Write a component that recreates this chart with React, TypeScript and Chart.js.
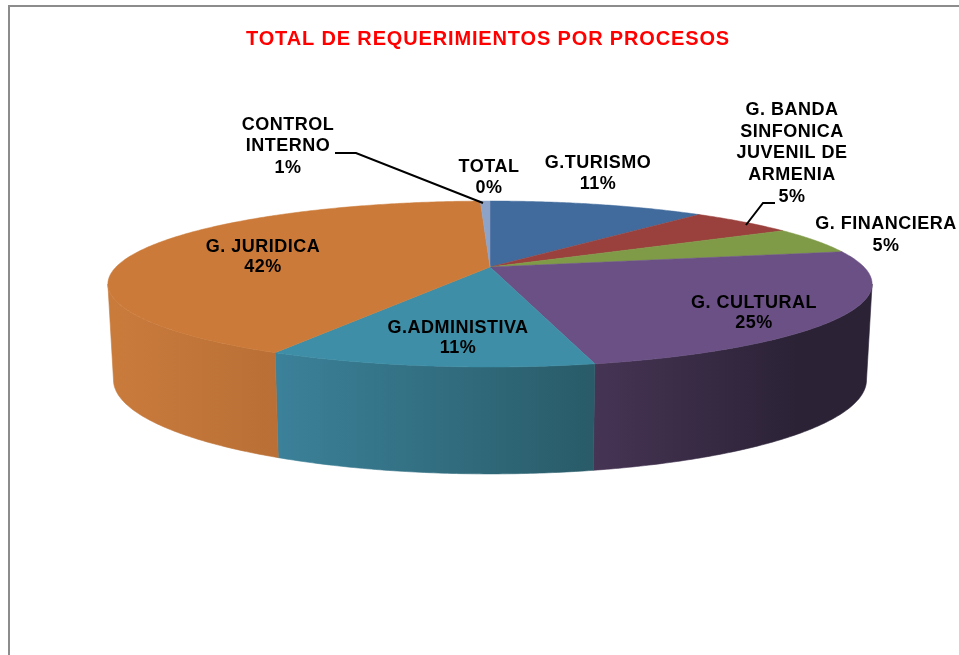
import React, { useEffect, useRef } from "react";
import { Chart, registerables } from "chart.js";

Chart.register(...registerables);

const categories = [
  "G.TURISMO",
  "G. BANDA SINFONICA JUVENIL DE ARMENIA",
  "G. FINANCIERA",
  "G. CULTURAL",
  "G.ADMINISTIVA",
  "G. JURIDICA",
  "CONTROL INTERNO",
  "TOTAL",
];
const shares = [11.2, 5.4, 5.2, 24.6, 11.4, 41.7, 0.5, 0];
const topColors = ["#416b9c", "#9a403d", "#7f9b47", "#6a5084", "#3d8ea6", "#cb7a39", "#8da3c8", "#8da3c8"];
const wallLeft = ["#34567d", "#7b3331", "#667c39", "#463454", "#3b8199", "#c97b3c", "#71829f", "#71829f"];
const wallRight = ["#34567d", "#7b3331", "#667c39", "#2b2236", "#295b68", "#b96f35", "#71829f", "#71829f"];
const chartTitle = "TOTAL DE REQUERIMIENTOS POR PROCESOS";

// Page coordinates of the text blocks (layout only)
const labelLayout = [
  { lines: ["G.TURISMO"], x: 598, y: 163, lh: 21 },
  { lines: ["G. BANDA", "SINFONICA", "JUVENIL DE", "ARMENIA"], x: 792, y: 110, lh: 21.7 },
  { lines: ["G. FINANCIERA"], x: 886, y: 224, lh: 22 },
  { lines: ["G. CULTURAL"], x: 754, y: 303, lh: 20 },
  { lines: ["G.ADMINISTIVA"], x: 458, y: 328, lh: 20 },
  { lines: ["G. JURIDICA"], x: 263, y: 247, lh: 20 },
  { lines: ["CONTROL", "INTERNO"], x: 288, y: 125, lh: 21.5 },
  { lines: ["TOTAL"], x: 489, y: 167, lh: 21 },
];
const leaders = [
  [[335, 153], [356, 153], [483, 203]],
  [[775, 203], [763, 203], [746, 225]],
];

const OX = 8, OY = 5; // canvas origin on the page
const K = 0.205;
const LIMB = Math.asin(K); // angle of the disk's left/right silhouette, measured from the horizontal
const topDisk = { cx: 490, cy: 267, rx: 374, ry: 79.5 };
const baseDisk = { cx: 490, cy: 360.7, rx: 368.5, ry: 90 };

type Disk = typeof topDisk;
const project = (d: Disk, a: number): [number, number] => {
  const X = Math.cos(a), Y = Math.sin(a), w = 1 - K * Y;
  return [d.cx + (d.rx * X) / w - OX, d.cy + (d.ry * Y) / w - OY];
};
const sample = (d: Disk, s: number, e: number) => {
  const n = Math.max(2, Math.ceil(Math.abs(e - s) / 0.01));
  const pts: [number, number][] = [];
  for (let i = 0; i <= n; i++) pts.push(project(d, s + ((e - s) * i) / n));
  return pts;
};

const pie3d = {
  id: "pie3d",
  beforeDraw(chart: any) {
    const c = chart.ctx;
    c.save();
    c.fillStyle = "#ffffff";
    c.fillRect(0, 0, chart.width, chart.height);
    c.fillStyle = "#8c8c8c";
    c.fillRect(0, 0, chart.width, 2);
    c.fillRect(0, 0, 2, chart.height);
    c.restore();
    c.letterSpacing = "0.85px"; // title tracking
    c.filter = "blur(0.35px)";
  },
  beforeDatasetDraw(chart: any, args: any) {
    const c = chart.ctx;
    const arcs = args.meta.data;
    c.save();
    c.filter = "none";
    // outer wall: only the part between the two silhouette angles can be seen
    arcs.forEach((arc: any, i: number) => {
      const { startAngle, endAngle } = arc.getProps(["startAngle", "endAngle"], true);
      const s = Math.max(startAngle, LIMB);
      const e = Math.min(endAngle, Math.PI - LIMB);
      if (e - s <= 0) return;
      const top = sample(topDisk, s, e);
      const base = sample(baseDisk, s, e);
      const poly = top.concat(base.slice().reverse());
      const xs = base.map((p) => p[0]);
      const min = Math.min(...xs), max = Math.max(...xs);
      const g = c.createLinearGradient(min, 0, i === 3 ? min + 0.75 * (max - min) : max, 0);
      g.addColorStop(0, wallLeft[i]);
      g.addColorStop(1, wallRight[i]);
      c.fillStyle = g;
      c.strokeStyle = g;
      c.lineWidth = 0.6;
      c.beginPath();
      poly.forEach((p, j) => (j ? c.lineTo(p[0], p[1]) : c.moveTo(p[0], p[1])));
      c.closePath();
      c.fill();
      c.stroke();
    });
    // top face
    const apex: [number, number] = [topDisk.cx - OX, topDisk.cy - OY];
    arcs.forEach((arc: any) => {
      const { startAngle: s, endAngle: e } = arc.getProps(["startAngle", "endAngle"], true);
      if (e - s <= 0) return;
      c.fillStyle = arc.options.backgroundColor;
      c.strokeStyle = arc.options.backgroundColor;
      c.lineWidth = 0.5;
      c.beginPath();
      c.moveTo(apex[0], apex[1]);
      sample(topDisk, s, e).forEach((p) => c.lineTo(p[0], p[1]));
      c.closePath();
      c.fill();
      c.stroke();
    });
    c.restore();
    return false;
  },
  afterDatasetsDraw(chart: any) {
    const c = chart.ctx;
    c.save();
    c.filter = "blur(0.35px)";
    c.strokeStyle = "#000000";
    c.lineWidth = 2;
    leaders.forEach((l) => {
      c.beginPath();
      l.forEach((p, j) => (j ? c.lineTo(p[0] - OX, p[1] - OY) : c.moveTo(p[0] - OX, p[1] - OY)));
      c.stroke();
    });
    c.fillStyle = "#000000";
    c.font = "bold 18px 'Liberation Sans', Arial, sans-serif";
    c.letterSpacing = "0.5px";
    c.textAlign = "center";
    c.textBaseline = "middle";
    labelLayout.forEach((b, i) => {
      const rows = [...b.lines, `${Math.round(shares[i])}%`];
      rows.forEach((t, j) => c.fillText(t, b.x - OX, b.y - OY + j * b.lh));
    });
    c.restore();
  },
};

export default function App() {
  const ref = useRef<HTMLCanvasElement>(null);
  useEffect(() => {
    const chart = new Chart(ref.current as HTMLCanvasElement, {
      type: "pie",
      data: {
        labels: categories,
        datasets: [{ data: shares, backgroundColor: topColors, borderWidth: 0 }],
      },
      options: {
        responsive: false,
        animation: false,
        events: [],
        plugins: {
          legend: { display: false },
          tooltip: { enabled: false },
          title: {
            display: true,
            text: chartTitle,
            color: "#ff0000",
            font: { family: "'Liberation Sans', Arial, sans-serif", size: 20, weight: "bold" },
            padding: { top: 22, bottom: 10 },
          },
        },
      },
      plugins: [pie3d],
    } as any);
    return () => chart.destroy();
  }, []);
  return (
    <div style={{ position: "fixed", left: 0, top: 0, width: 959, height: 655, overflow: "hidden", background: "#fff" }}>
      <canvas ref={ref} width={960} height={650} style={{ position: "absolute", left: OX, top: OY, width: 960, height: 650 }} />
    </div>
  );
}
